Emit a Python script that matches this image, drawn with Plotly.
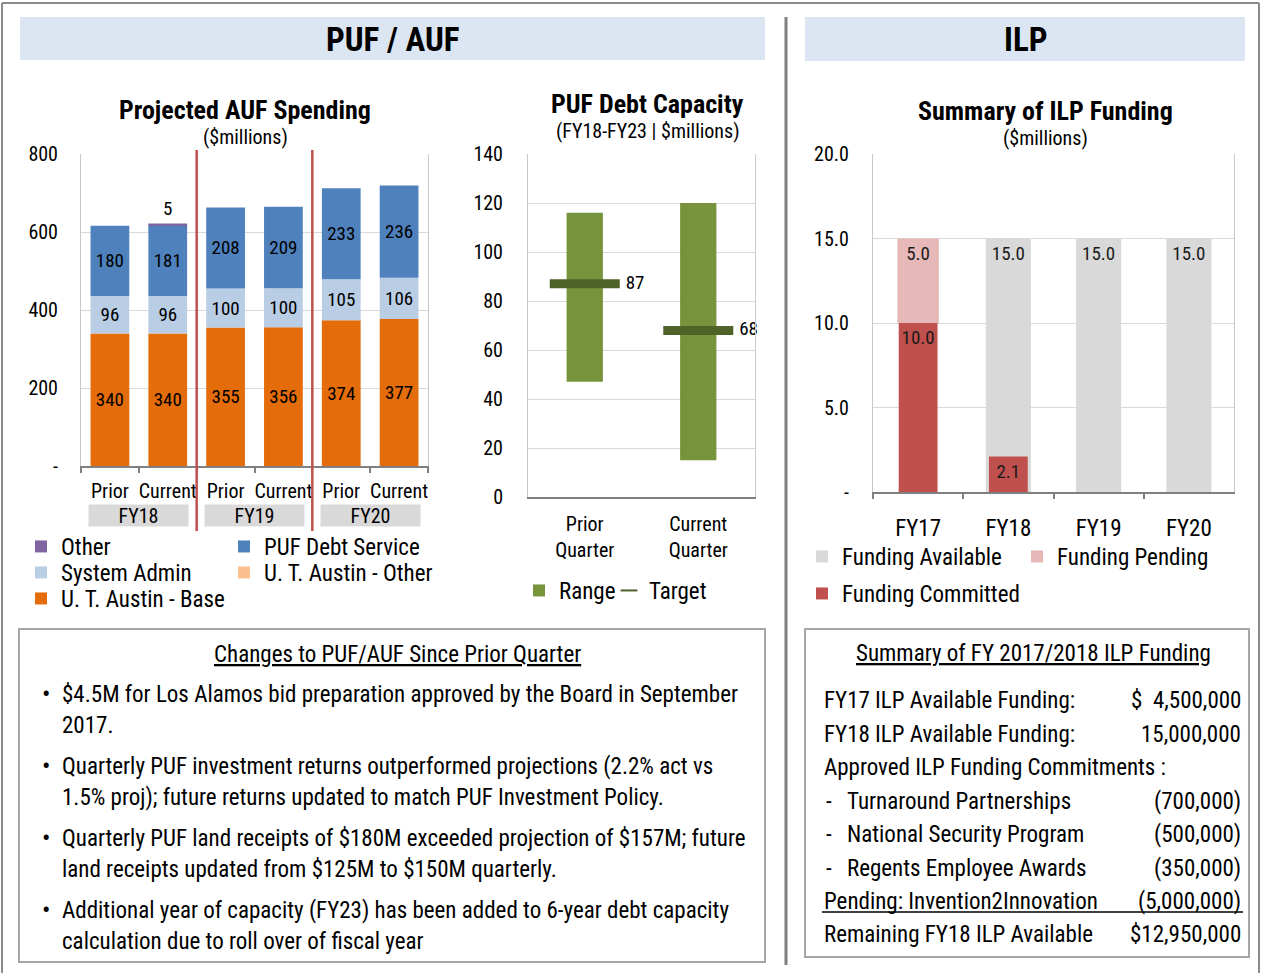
import plotly.graph_objects as go

W, H = 1262, 973


def px(x):
    return x / W


def py(y):
    return 1 - y / H


FONT = "Roboto Condensed, Liberation Sans Narrow, Arial Narrow, sans-serif"
BLACK = "#000000"

# ---------------- Chart 1: Projected AUF Spending ----------------
fiscal_years = ["FY18", "FY19", "FY20"]
periods = ["Prior", "Current"]
ut_austin_base = [340, 340, 355, 356, 374, 377]
system_admin = [96, 96, 100, 100, 105, 106]
puf_debt_service = [180, 181, 208, 209, 233, 236]
other = [0, 5, 0, 0, 0, 0]
ut_austin_other = [0, 0, 0, 0, 0, 0]
auf_tickvals = [0, 200, 400, 600, 800]
auf_ticktext = ["-", "200", "400", "600", "800"]

# ---------------- Chart 2: PUF Debt Capacity ----------------
debt_quarters = ["Prior<br>Quarter", "Current<br>Quarter"]
range_low = [47, 15]
range_high = [116, 120]
target = [87, 68]

# ---------------- Chart 3: Summary of ILP Funding ----------------
ilp_years = ["FY17", "FY18", "FY19", "FY20"]
funding_available = [None, 15.0, 15.0, 15.0]
funding_committed = [10.0, 2.1, None, None]
funding_pending = [5.0, None, None, None]
ilp_tickvals = [0, 5, 10, 15, 20]
ilp_ticktext = ["-", "5.0", "10.0", "15.0", "20.0"]

# ---------------- Text boxes ----------------
changes_title = "Changes to PUF/AUF Since Prior Quarter"
changes_bullets = [
    ["$4.5M for Los Alamos bid preparation approved by the Board in September", "2017."],
    ["Quarterly PUF investment returns outperformed projections (2.2% act vs",
     "1.5% proj); future returns updated to match PUF Investment Policy."],
    ["Quarterly PUF land receipts of $180M exceeded projection of $157M; future",
     "land receipts updated from $125M to $150M quarterly."],
    ["Additional year of capacity (FY23) has been added to 6-year debt capacity",
     "calculation due to roll over of fiscal year"],
]
ilp_summary_title = "Summary of FY 2017/2018 ILP Funding"
ilp_rows = [
    ("FY17 ILP Available Funding:", "$  4,500,000", False),
    ("FY18 ILP Available Funding:", "15,000,000", False),
    ("Approved ILP Funding Commitments :", "", False),
    ("Turnaround Partnerships", "(700,000)", True),
    ("National Security Program", "(500,000)", True),
    ("Regents Employee Awards", "(350,000)", True),
    ("Pending: Invention2Innovation", "(5,000,000)", False),
    ("Remaining FY18 ILP Available", "$12,950,000", False),
]

C_BASE = "#E46C0A"
C_ADMIN = "#B9CDE5"
C_DEBT = "#4F81BD"
C_OTHER = "#8064A2"
C_UTOTHER = "#FAC090"
C_RANGE = "#77933C"
C_TARGET = "#4F6228"
C_AVAIL = "#D9D9D9"
C_PEND = "#E6B9B8"
C_COMM = "#C0504D"

fig = go.Figure()

# ---- chart 1 traces
cats = [f"{fy} {p}" for fy in fiscal_years for p in periods]
tick_labels = [p for fy in fiscal_years for p in periods]
cum0 = [0] * len(cats)
cum1 = [a + b for a, b in zip(cum0, ut_austin_base)]
cum2 = [a + b for a, b in zip(cum1, system_admin)]
cum3 = [a + b for a, b in zip(cum2, puf_debt_service)]
cum4 = [a + b for a, b in zip(cum3, other)]

bar_font = dict(family=FONT, size=19, color=BLACK)


def stack_bar(name, vals, base, color, legend, textpos="inside"):
    txt = [str(v) if v else "" for v in vals]
    fig.add_trace(go.Bar(
        x=cats, y=vals, base=base, name=name, marker=dict(color=color, line=dict(width=0)),
        width=0.67, text=txt, textposition=textpos, insidetextanchor="middle",
        textfont=bar_font, constraintext="none", textangle=0, cliponaxis=False,
        xaxis="x", yaxis="y", legend=legend, hoverinfo="skip"))


stack_bar("U. T. Austin - Base", ut_austin_base, cum0, C_BASE, "legend3")
stack_bar("System Admin", system_admin, cum1, C_ADMIN, "legend2")
stack_bar("PUF Debt Service", puf_debt_service, cum2, C_DEBT, "legend4")
stack_bar("Other", other, cum3, C_OTHER, "legend", textpos="outside")
stack_bar("U. T. Austin - Other", ut_austin_other, cum4, C_UTOTHER, "legend5")

# ---- chart 2 traces
NBSP = "\u00a0"
fig.add_trace(go.Bar(
    x=debt_quarters, y=[h - l for h, l in zip(range_high, range_low)], base=range_low,
    name="Range", marker=dict(color=C_RANGE, line=dict(width=0)), width=0.32,
    xaxis="x2", yaxis="y2", legend="legend6", hoverinfo="skip"))
fig.add_trace(go.Scatter(
    x=debt_quarters, y=target, name="Target", mode="markers+text",
    marker=dict(symbol="line-ew", size=50, color=C_TARGET, line=dict(color=C_TARGET, width=9)),
    text=[NBSP * 2 + str(t) for t in target], textposition="middle right",
    textfont=dict(family=FONT, size=19, color=BLACK), cliponaxis=False,
    xaxis="x2", yaxis="y2", legend="legend7", hoverinfo="skip"))

# ---- chart 3 traces
ilp_font = dict(family=FONT, size=19, color="#1a1a1a")


def fmt(vals):
    return [f"{v:.1f}" if v is not None else "" for v in vals]


fig.add_trace(go.Bar(
    x=ilp_years, y=funding_available, name="Funding Available",
    marker=dict(color=C_AVAIL, line=dict(width=0)), width=0.5,
    text=fmt(funding_available), textposition="inside", insidetextanchor="end",
    textfont=ilp_font, constraintext="none", textangle=0,
    xaxis="x3", yaxis="y3", legend="legend8", hoverinfo="skip"))
fig.add_trace(go.Bar(
    x=ilp_years, y=funding_committed, name="Funding Committed",
    marker=dict(color=C_COMM, line=dict(width=0)), width=0.43,
    text=fmt(funding_committed), textposition="inside", insidetextanchor="end",
    textfont=ilp_font, constraintext="none", textangle=0,
    xaxis="x3", yaxis="y3", legend="legend9", hoverinfo="skip"))
fig.add_trace(go.Bar(
    x=ilp_years, y=funding_pending, base=[c or 0 for c in funding_committed],
    name="Funding Pending",
    marker=dict(color=C_PEND, line=dict(width=0)), width=0.46,
    text=fmt(funding_pending), textposition="inside", insidetextanchor="end",
    textfont=ilp_font, constraintext="none", textangle=0,
    xaxis="x3", yaxis="y3", legend="legend10", hoverinfo="skip"))

tickfont = dict(family=FONT, size=20, color=BLACK)
GRID = "#D9D9D9"
FRAME = "#C8C8C8"
AXIS = "#808080"

common_y = dict(showgrid=True, gridcolor=GRID, gridwidth=1, showline=True, linecolor=FRAME,
                linewidth=1, mirror=True, zeroline=False, ticks="", tickfont=tickfont,
                fixedrange=True, automargin=False)
common_x = dict(showgrid=False, showline=True, linecolor=AXIS, linewidth=2, zeroline=False,
                tickfont=tickfont, fixedrange=True, type="category", tickangle=0,
                automargin=False)

LEG_FONT = 23


def legend_at(text_x, row_y, size=LEG_FONT, **kw):
    # text starts ~41px right of legend's left edge; row centre ~24px below its top
    d = dict(font=dict(family=FONT, size=size, color=BLACK), bgcolor="rgba(0,0,0,0)",
             borderwidth=0, xanchor="left", yanchor="top", itemwidth=30,
             orientation="v", x=px(text_x - 41), y=py(row_y - 24),
             itemclick=False, itemdoubleclick=False)
    d.update(kw)
    return d


annotations = []


def ann(x, y, text, size=20, bold=False, xanchor="center", color=BLACK, **kw):
    t = f"<b>{text}</b>" if bold else text
    annotations.append(dict(x=px(x), y=py(y), xref="paper", yref="paper", text=t,
                            showarrow=False, xanchor=xanchor, yanchor="middle",
                            font=dict(family=FONT, size=size, color=color), **kw))


# headers
ann(392, 39, "PUF / AUF", size=33, bold=True)
ann(1025, 39, "ILP", size=33, bold=True)
# chart titles
ann(245, 110, "Projected AUF Spending", size=26, bold=True)
ann(245, 137, "($millions)", size=20)
ann(648, 104, "PUF Debt Capacity", size=26, bold=True)
ann(648, 131, "(FY18-FY23 | $millions)", size=20)
ann(1045, 111, "Summary of ILP Funding", size=26, bold=True)
ann(1045, 138, "($millions)", size=20)

# fiscal year group labels (chart 1)
for i, fy in enumerate(fiscal_years):
    annotations.append(dict(x=2 * i + 0.5, y=py(515), xref="x", yref="paper", text=fy,
                            showarrow=False, xanchor="center", yanchor="middle",
                            bgcolor="#D9D9D9", width=97, height=19,
                            font=dict(family=FONT, size=20, color=BLACK)))

BOX_FONT = 23
# left text box
ann(397, 654, f"<u>{changes_title}</u>", size=BOX_FONT)
y0 = 694
for bullet in changes_bullets:
    ann(40, y0, "•", size=25, xanchor="left")
    for k, line in enumerate(bullet):
        ann(60, y0 + 31 * k, line, size=BOX_FONT, xanchor="left")
    y0 += 72

# right text box
ann(1033, 653, f"<u>{ilp_summary_title}</u>", size=BOX_FONT)
row_y = [700, 734, 767, 801, 834, 868, 901, 934]
for (label, val, dash), yy in zip(ilp_rows, row_y):
    if dash:
        ann(824, yy, "-", size=BOX_FONT, xanchor="left")
        ann(845, yy, label, size=BOX_FONT, xanchor="left")
    else:
        ann(822, yy, label, size=BOX_FONT, xanchor="left")
    if val:
        ann(1243, yy, val, size=BOX_FONT, xanchor="right")

shapes = []


def rect(x0, y0_, x1, y1, line=None, fill=None, layer="below"):
    shapes.append(dict(type="rect", xref="paper", yref="paper", x0=px(x0), x1=px(x1),
                       y0=py(y1), y1=py(y0_), fillcolor=fill or "rgba(0,0,0,0)",
                       line=line or dict(width=0), layer=layer))


def hline(x0, x1, y, color, width):
    shapes.append(dict(type="line", xref="paper", yref="paper", x0=px(x0), x1=px(x1),
                       y0=py(y), y1=py(y), line=dict(color=color, width=width)))


def vline(x, y0_, y1, color, width):
    shapes.append(dict(type="line", xref="paper", yref="paper", x0=px(x), x1=px(x),
                       y0=py(y0_), y1=py(y1), line=dict(color=color, width=width)))


# outer frame
hline(2, 1259, 3, "#8C8C8C", 2)
vline(2, 3, 973, "#8C8C8C", 2)
vline(1259, 3, 973, "#8C8C8C", 2)
# divider
vline(786, 17, 965, "#7F7F7F", 3)
# header bands
rect(20, 17, 765, 60, fill="#DCE6F2")
rect(805, 17, 1245, 61, fill="#DCE6F2")
# text boxes
rect(19, 629, 765, 962, line=dict(color="#A6A6A6", width=2))
rect(805, 629, 1249, 957, line=dict(color="#A6A6A6", width=2))
hline(822, 1243, 912, BLACK, 1.5)
# red separators in chart 1
for xv in (1.5, 3.5):
    shapes.append(dict(type="line", xref="x", yref="paper", x0=xv, x1=xv,
                       y0=py(531), y1=py(150), line=dict(color=C_COMM, width=2.5),
                       layer="above"))

fig.update_layout(
    width=W, height=H, margin=dict(l=0, r=0, t=0, b=0, pad=0, autoexpand=False),
    paper_bgcolor="white", plot_bgcolor="white", barmode="overlay",
    showlegend=True, annotations=annotations, shapes=shapes,
    font=dict(family=FONT, color=BLACK),
    xaxis=dict(common_x, domain=[px(81), px(428)], anchor="y", tickvals=cats,
               ticktext=tick_labels, ticks="outside", tickson="boundaries", ticklen=5,
               tickcolor=AXIS, tickwidth=1.5, range=[-0.5, 5.5], ticklabelstandoff=6),
    yaxis=dict(common_y, domain=[py(466), py(154)], anchor="x", range=[0, 800],
               tickvals=auf_tickvals, ticktext=auf_ticktext, ticklabelstandoff=18),
    xaxis2=dict(common_x, domain=[px(528), px(755)], anchor="y2", ticks="",
                range=[-0.5, 1.5], ticklabelstandoff=8),
    yaxis2=dict(common_y, domain=[py(497), py(154)], anchor="x2", range=[0, 140],
                dtick=20, ticklabelstandoff=20),
    xaxis3=dict(common_x, domain=[px(873), px(1234)], anchor="y3", ticks="outside",
                tickson="boundaries", ticklen=5, tickcolor=AXIS, tickwidth=1.5,
                range=[-0.5, 3.5], tickfont=dict(family=FONT, size=23, color=BLACK),
                ticklabelstandoff=14),
    yaxis3=dict(common_y, domain=[py(492), py(154)], anchor="x3", range=[0, 20],
                tickvals=ilp_tickvals, ticktext=ilp_ticktext, ticklabelstandoff=19),
    legend=legend_at(62, 549),
    legend2=legend_at(62, 575),
    legend3=legend_at(62, 601),
    legend4=legend_at(265, 549),
    legend5=legend_at(265, 575),
    legend6=legend_at(560, 593),
    legend7=legend_at(650, 593, itemsizing="constant"),
    legend8=legend_at(843, 559),
    legend9=legend_at(843, 596),
    legend10=legend_at(1058, 559),
)

POST = (
    "document.documentElement.style.margin='0';"
    "document.documentElement.style.overflow='hidden';"
    "document.body.style.margin='0';document.body.style.padding='0';"
    "document.body.style.overflow='hidden';"
)

fig.write_html(
    "out.html",
    config={"displayModeBar": False, "responsive": False},
    post_script=POST,
)
